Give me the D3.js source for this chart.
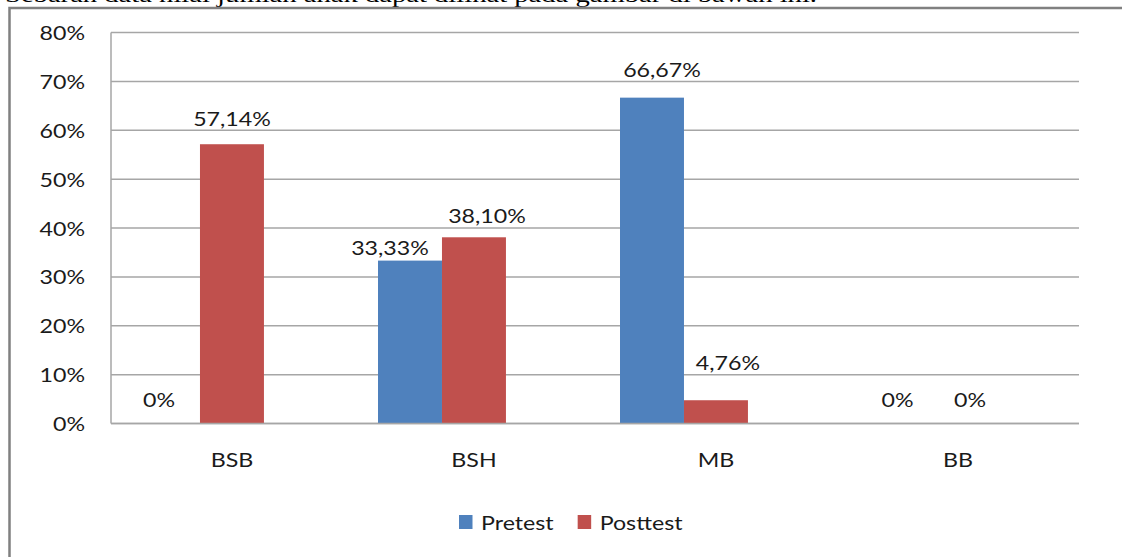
<!DOCTYPE html>
<html>
<head>
<meta charset="utf-8">
<script src="https://cdn.jsdelivr.net/npm/d3@7"></script>
<style>
  html, body { margin: 0; padding: 0; background: #fff; }
  svg { display: block; }
</style>
</head>
<body>
<svg id="chart" width="1122" height="557"></svg>
<script>
// Categories and series values (fractions)
const categories = ["BSB", "BSH", "MB", "BB"];
const seriesNames = ["Pretest", "Posttest"];
const pretest = [0, 0.3333, 0.6667, 0];
const posttest = [0.5714, 0.3810, 0.0476, 0];
const pretestLabels = ["0%", "33,33%", "66,67%", "0%"];
const posttestLabels = ["57,14%", "38,10%", "4,76%", "0%"];
const yTicks = [0, 0.1, 0.2, 0.3, 0.4, 0.5, 0.6, 0.7, 0.8];
const yTickLabels = ["0%", "10%", "20%", "30%", "40%", "50%", "60%", "70%", "80%"];

const colors = { Pretest: "#4F81BD", Posttest: "#C0504D" };
const FONT = "Lato, 'Open Sans', sans-serif";
const SX = 1.16; // horizontal text stretch

// small per-label offsets keep the value labels clear of neighbouring bars
const labelNudge = {
  "Pretest|BSB": [-9, 0], "Posttest|BSB": [0, -1],
  "Pretest|BSH": [-20, 11.5], "Posttest|BSH": [13, 3],
  "Pretest|MB": [10, -3.5], "Posttest|MB": [12, -13],
  "Pretest|BB": [3.5, 0], "Posttest|BB": [12, 0]
};

const svg = d3.select("#chart");

// text helper with a slight horizontal stretch
function label(g, x, y, txt, anchor, size, fill, family) {
  return g.append("text")
    .attr("transform", `translate(${x},${y}) scale(${SX},1)`)
    .attr("text-anchor", anchor)
    .attr("font-family", family || FONT)
    .attr("font-size", size)
    .attr("fill", fill || "#1a1a1a")
    .text(txt);
}

// running text of the page above the figure (only its lower edge lies on the page)
svg.append("text")
  .attr("x", 5).attr("y", 1.5)
  .attr("font-family", "'Liberation Serif', 'Times New Roman', serif")
  .attr("font-size", 22)
  .attr("fill", "#000")
  .attr("textLength", 812)
  .attr("lengthAdjust", "spacingAndGlyphs")
  .text("Sebaran data nilai jumlah anak dapat dilihat pada gambar di bawah ini.");

// chart frame
svg.append("path")
  .attr("d", "M9.5,560 L9.5,8 L1130,8")
  .attr("fill", "none")
  .attr("stroke", "#808080")
  .attr("stroke-width", 2.5);

const plot = { left: 111, right: 1079, top: 32.5, bottom: 423.5 };

const y = d3.scaleLinear().domain([0, 0.8]).range([plot.bottom, plot.top]);
const x0 = d3.scaleBand().domain(categories).range([plot.left, plot.right]).padding(0);
const bw = x0.bandwidth();
const x1 = d3.scaleBand().domain(seriesNames).range([bw * 0.1033, bw * 0.632]).padding(0);

// gridlines
const grid = svg.append("g");
grid.selectAll("line").data(yTicks).join("line")
  .attr("x1", plot.left).attr("x2", plot.right)
  .attr("y1", d => y(d)).attr("y2", d => y(d))
  .attr("stroke", "#a6a6a6").attr("stroke-width", 1.5);

// value axis line
svg.append("line")
  .attr("x1", plot.left).attr("x2", plot.left)
  .attr("y1", plot.top).attr("y2", plot.bottom)
  .attr("stroke", "#a6a6a6").attr("stroke-width", 1.5);

// y tick labels
const yl = svg.append("g");
yTicks.forEach((t, i) => label(yl, 85, y(t) + 7.5, yTickLabels[i], "end", 20));

// category labels
const xl = svg.append("g");
categories.forEach(c => label(xl, x0(c) + bw / 2, 467, c, "middle", 20));

// bars
const rows = [];
categories.forEach((c, i) => {
  rows.push({ cat: c, s: "Pretest", v: pretest[i], t: pretestLabels[i] });
  rows.push({ cat: c, s: "Posttest", v: posttest[i], t: posttestLabels[i] });
});

svg.append("g").selectAll("rect").data(rows.filter(d => d.v > 0)).join("rect")
  .attr("x", d => x0(d.cat) + x1(d.s))
  .attr("width", x1.bandwidth())
  .attr("y", d => y(d.v))
  .attr("height", d => y(0) - y(d.v))
  .attr("fill", d => colors[d.s]);

// bottom axis line drawn above the bars
svg.append("line")
  .attr("x1", plot.left).attr("x2", plot.right)
  .attr("y1", y(0)).attr("y2", y(0))
  .attr("stroke", "#a6a6a6").attr("stroke-width", 1.5);

// value labels
const vl = svg.append("g");
rows.forEach(d => {
  const n = labelNudge[d.s + "|" + d.cat] || [0, 0];
  const cx = x0(d.cat) + x1(d.s) + x1.bandwidth() / 2 + n[0];
  const by = y(d.v) - 17 + n[1];
  label(vl, cx, by, d.t, "middle", 20);
});

// legend
const lg = svg.append("g");
let lx = 459;
seriesNames.forEach(s => {
  lg.append("rect").attr("x", lx).attr("y", 515).attr("width", 13.5).attr("height", 14)
    .attr("fill", colors[s]);
  const t = label(lg, lx + 22, 530, s, "start", 20);
  const w = t.node().getComputedTextLength() * SX;
  lx += 22 + w + 24;
});
</script>
</body>
</html>
